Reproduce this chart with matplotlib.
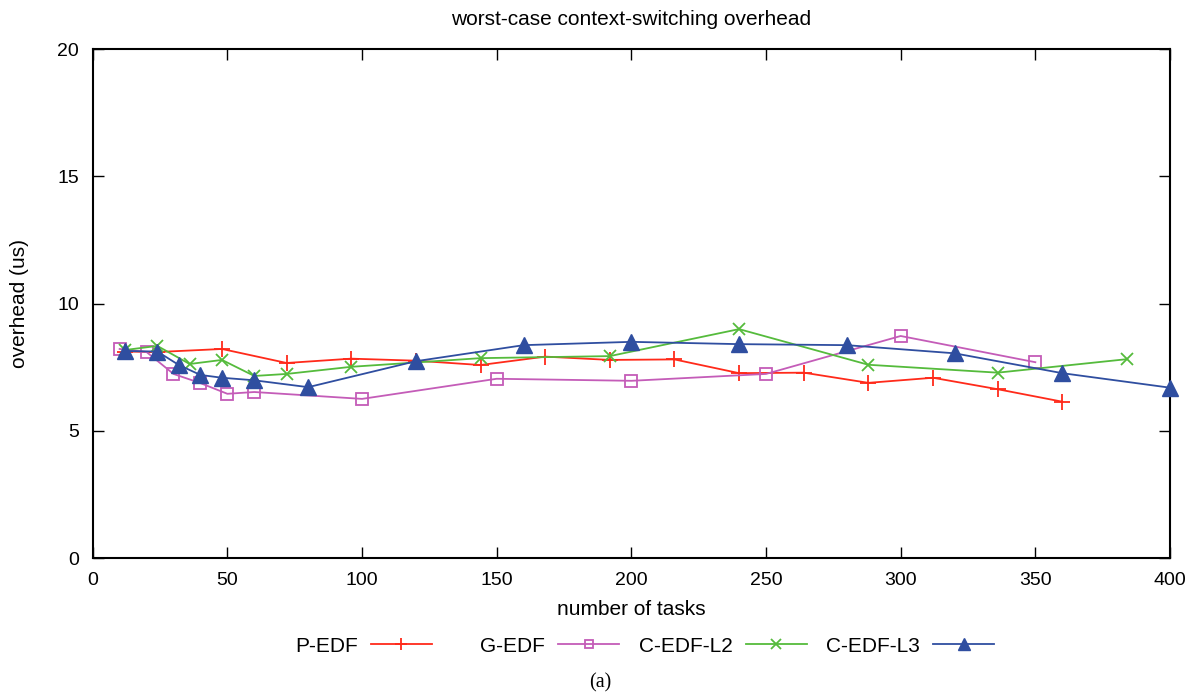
import matplotlib
matplotlib.use("Agg")
import matplotlib.pyplot as plt

plt.rcParams['font.family'] = ['Liberation Sans', 'DejaVu Sans']

title = "worst-case context-switching overhead"
xlabel = "number of tasks"
ylabel = "overhead (us)"
caption = "(a)"

pedf_x = [12, 24, 48, 72, 96, 120, 144, 168, 192, 216, 240, 264, 288, 312, 336, 360]
pedf_y = [8.12, 8.10, 8.22, 7.67, 7.84, 7.76, 7.59, 7.92, 7.79, 7.81, 7.27, 7.29, 6.89, 7.09, 6.64, 6.15]

gedf_x = [10, 20, 30, 40, 50, 60, 100, 150, 200, 250, 300, 350]
gedf_y = [8.22, 8.10, 7.24, 6.88, 6.46, 6.53, 6.26, 7.05, 6.97, 7.24, 8.73, 7.70]

l2_x = [12, 24, 36, 48, 60, 72, 96, 144, 192, 240, 288, 336, 384]
l2_y = [8.18, 8.34, 7.63, 7.79, 7.16, 7.24, 7.52, 7.86, 7.94, 9.00, 7.60, 7.29, 7.82]

l3_x = [12, 24, 32, 40, 48, 60, 80, 120, 160, 200, 240, 280, 320, 360, 400]
l3_y = [8.14, 8.12, 7.59, 7.20, 7.09, 6.99, 6.72, 7.74, 8.37, 8.50, 8.41, 8.37, 8.05, 7.27, 6.70]

xticks = [0, 50, 100, 150, 200, 250, 300, 350, 400]
yticks = [0, 5, 10, 15, 20]

W, H = 1200, 698
fig = plt.figure(figsize=(W / 100, H / 100), dpi=100)
ax = fig.add_axes([92.7 / W, 1 - 558.3 / H, (1170 - 92.7) / W, (558.3 - 49) / H])

lines = []
lines += ax.plot(pedf_x, pedf_y, color='#ff2a1a', lw=1.3, marker='+', ms=11, mew=1.3, label='P-EDF', clip_on=False)
lines += ax.plot(gedf_x, gedf_y, color='#c45cb8', lw=1.3, marker='s', ms=8, mfc='none', mew=1.3, label='G-EDF', clip_on=False)
lines += ax.plot(l2_x, l2_y, color='#55bb3c', lw=1.3, marker='x', ms=9, mew=1.3, label='C-EDF-L2', clip_on=False)
lines += ax.plot(l3_x, l3_y, color='#2f4ea0', lw=1.3, marker='^', ms=11, label='C-EDF-L3', clip_on=False, zorder=3)

ax.set_xlim(0, 400)
ax.set_ylim(0, 20)
ax.set_xticks(xticks)
ax.set_yticks(yticks)
ax.tick_params(direction='in', length=8, width=1, top=True, right=True, labelsize=14, pad=10)
for s in ax.spines.values():
    s.set_linewidth(1.5)

ax.set_title(title, fontsize=15, pad=17)
ax.set_xlabel(xlabel, fontsize=15, labelpad=8)
ax.yaxis.set_label_coords(20 / (1170 - 92.7) - 92.7 / (1170 - 92.7), 0.5)
ax.set_ylabel(ylabel, fontsize=15, va='center')

# gnuplot-style key: text right-aligned, sample after it, one entry per column
ends = [432, 619.5, 807, 994.5]
for ln, xe in zip(lines, ends):
    leg = fig.legend([ln], [ln.get_label()], loc='center right',
                     bbox_to_anchor=(xe / W, 1 - 646 / H), frameon=False,
                     markerfirst=False, handlelength=2.93, handletextpad=0.63,
                     borderpad=0, borderaxespad=0, fontsize=15)
    leg.legend_handles[0].set_markersize(ln.get_markersize() * 0.8)

fig.text(0.5, 1 - 683 / H, caption, ha='center', va='center', fontsize=14.5, family='Liberation Serif')

fig.savefig('out.png', dpi=100)
